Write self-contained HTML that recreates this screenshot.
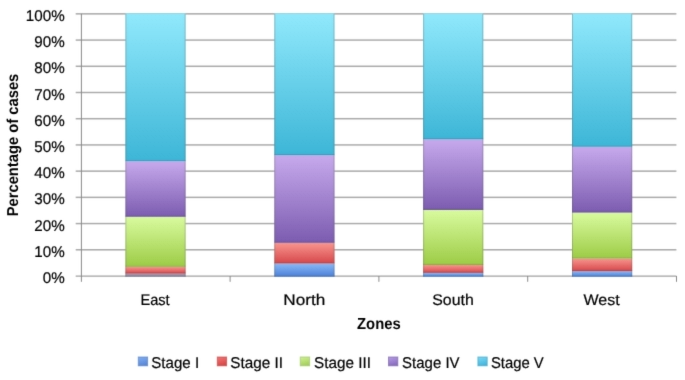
<!DOCTYPE html><html><head><meta charset="utf-8"><style>html,body{margin:0;padding:0;background:#fff;width:685px;height:380px;overflow:hidden}svg{display:block;will-change:transform}text{font-family:"Liberation Sans",sans-serif;text-rendering:geometricPrecision;fill:#000;stroke:#000;stroke-width:0.2px}text[font-weight=bold]{stroke-width:0}</style></head><body>
<svg width="685" height="380" viewBox="0 0 685 380">
<defs>
<filter id="soft" x="0" y="0" width="685" height="380" filterUnits="userSpaceOnUse" color-interpolation-filters="sRGB"><feConvolveMatrix in="SourceGraphic" order="3" kernelMatrix="0.01000 0.08000 0.01000 0.08000 0.64000 0.08000 0.01000 0.08000 0.01000" divisor="1" edgeMode="duplicate" preserveAlpha="false" result="A"/><feGaussianBlur in="A" stdDeviation="1.0" result="B"/><feColorMatrix in="A" type="matrix" values="0.299 0.587 0.114 0 0 0.299 0.587 0.114 0 0 0.299 0.587 0.114 0 0 0 0 0 1 0" result="YA"/><feColorMatrix in="B" type="matrix" values="0.299 0.587 0.114 0 0 0.299 0.587 0.114 0 0 0.299 0.587 0.114 0 0 0 0 0 1 0" result="YB"/><feComposite in="YA" in2="YB" operator="arithmetic" k1="0" k2="0.5" k3="-0.5" k4="0.5" result="G"/><feComposite in="B" in2="G" operator="arithmetic" k1="0" k2="1" k3="2" k4="-1"/></filter>
<linearGradient id="b0" x1="0" y1="0" x2="0" y2="1"><stop offset="0" stop-color="#a59ab8"/><stop offset="1" stop-color="#8e8aa2"/></linearGradient>
<linearGradient id="b" x1="0" y1="0" x2="0" y2="1"><stop offset="0" stop-color="#8ab8f6"/><stop offset="1" stop-color="#4a80d8"/></linearGradient>
<linearGradient id="r" x1="0" y1="0" x2="0" y2="1"><stop offset="0" stop-color="#f8958e"/><stop offset="1" stop-color="#d5464a"/></linearGradient>
<linearGradient id="g" x1="0" y1="0" x2="0" y2="1"><stop offset="0" stop-color="#d8fa9e"/><stop offset="1" stop-color="#9ccb45"/></linearGradient>
<linearGradient id="p" x1="0" y1="0" x2="0" y2="1"><stop offset="0" stop-color="#c6a9ec"/><stop offset="1" stop-color="#7b5baf"/></linearGradient>
<linearGradient id="c" x1="0" y1="0" x2="0" y2="1"><stop offset="0" stop-color="#90e8fb"/><stop offset="1" stop-color="#3cb5d6"/></linearGradient>
<linearGradient id="Lb" x1="0" y1="0" x2="0.3" y2="1"><stop offset="0" stop-color="#82aff3"/><stop offset="1" stop-color="#5a88d8"/></linearGradient><linearGradient id="Lr" x1="0" y1="0" x2="0.3" y2="1"><stop offset="0" stop-color="#f27676"/><stop offset="1" stop-color="#d84848"/></linearGradient><linearGradient id="Lg" x1="0" y1="0" x2="0.3" y2="1"><stop offset="0" stop-color="#d0f294"/><stop offset="1" stop-color="#a6cf5e"/></linearGradient><linearGradient id="Lp" x1="0" y1="0" x2="0.3" y2="1"><stop offset="0" stop-color="#b79de6"/><stop offset="1" stop-color="#8a6cc0"/></linearGradient><linearGradient id="Lc" x1="0" y1="0" x2="0.3" y2="1"><stop offset="0" stop-color="#7cdaf5"/><stop offset="1" stop-color="#46b6de"/></linearGradient>
</defs>
<g filter="url(#soft)">
<rect x="0" y="0" width="685" height="380" fill="#fff"/>
<rect x="75.70" y="249.03" width="600.70" height="1.5" fill="#aaaaaa"/>
<rect x="75.70" y="222.82" width="600.70" height="1.5" fill="#aaaaaa"/>
<rect x="75.70" y="196.61" width="600.70" height="1.5" fill="#aaaaaa"/>
<rect x="75.70" y="170.39" width="600.70" height="1.5" fill="#aaaaaa"/>
<rect x="75.70" y="144.18" width="600.70" height="1.5" fill="#aaaaaa"/>
<rect x="75.70" y="117.96" width="600.70" height="1.5" fill="#aaaaaa"/>
<rect x="75.70" y="91.75" width="600.70" height="1.5" fill="#aaaaaa"/>
<rect x="75.70" y="65.53" width="600.70" height="1.5" fill="#aaaaaa"/>
<rect x="75.70" y="39.32" width="600.70" height="1.5" fill="#aaaaaa"/>
<rect x="75.70" y="13.10" width="600.70" height="1.5" fill="#aaaaaa"/>
<rect x="80.90" y="13.85" width="1.0" height="267.95" fill="#8a8a8a"/>
<rect x="75.70" y="275.60" width="600.70" height="1.0" fill="#8a8a8a"/>
<rect x="229.60" y="276.00" width="1.0" height="5.8" fill="#8a8a8a"/>
<rect x="378.40" y="276.00" width="1.0" height="5.8" fill="#8a8a8a"/>
<rect x="527.20" y="276.00" width="1.0" height="5.8" fill="#8a8a8a"/>
<rect x="676.00" y="276.00" width="1.0" height="5.8" fill="#8a8a8a"/>
<rect x="125.40" y="273.64" width="60.20" height="2.96" fill="url(#b0)"/>
<rect x="125.40" y="275.50" width="60.20" height="1.1" fill="rgba(40,50,70,0.16)"/>
<rect x="125.40" y="266.82" width="60.20" height="6.82" fill="url(#r)"/>
<rect x="125.40" y="272.54" width="60.20" height="1.1" fill="rgba(40,50,70,0.16)"/>
<rect x="125.40" y="216.75" width="60.20" height="50.07" fill="url(#g)"/>
<rect x="125.40" y="265.72" width="60.20" height="1.1" fill="rgba(40,50,70,0.16)"/>
<rect x="125.40" y="161.18" width="60.20" height="55.58" fill="url(#p)"/>
<rect x="125.40" y="215.65" width="60.20" height="1.1" fill="rgba(40,50,70,0.16)"/>
<rect x="125.40" y="13.35" width="60.20" height="147.83" fill="url(#c)"/>
<rect x="125.40" y="160.08" width="60.20" height="1.1" fill="rgba(40,50,70,0.16)"/>
<rect x="125.40" y="13.85" width="1" height="262.75" fill="rgba(90,90,90,0.3)"/>
<rect x="184.60" y="13.85" width="1" height="262.75" fill="rgba(90,90,90,0.3)"/>
<rect x="274.30" y="263.50" width="60.20" height="13.10" fill="url(#b)"/>
<rect x="274.30" y="275.50" width="60.20" height="1.1" fill="rgba(40,50,70,0.16)"/>
<rect x="274.30" y="242.81" width="60.20" height="20.68" fill="url(#r)"/>
<rect x="274.30" y="262.40" width="60.20" height="1.1" fill="rgba(40,50,70,0.16)"/>
<rect x="274.30" y="155.15" width="60.20" height="87.66" fill="url(#p)"/>
<rect x="274.30" y="241.71" width="60.20" height="1.1" fill="rgba(40,50,70,0.16)"/>
<rect x="274.30" y="13.35" width="60.20" height="141.80" fill="url(#c)"/>
<rect x="274.30" y="154.05" width="60.20" height="1.1" fill="rgba(40,50,70,0.16)"/>
<rect x="274.30" y="13.85" width="1" height="262.75" fill="rgba(90,90,90,0.3)"/>
<rect x="333.50" y="13.85" width="1" height="262.75" fill="rgba(90,90,90,0.3)"/>
<rect x="423.10" y="272.85" width="60.20" height="3.75" fill="url(#b)"/>
<rect x="423.10" y="275.50" width="60.20" height="1.1" fill="rgba(40,50,70,0.16)"/>
<rect x="423.10" y="264.99" width="60.20" height="7.86" fill="url(#r)"/>
<rect x="423.10" y="271.75" width="60.20" height="1.1" fill="rgba(40,50,70,0.16)"/>
<rect x="423.10" y="209.94" width="60.20" height="55.05" fill="url(#g)"/>
<rect x="423.10" y="263.89" width="60.20" height="1.1" fill="rgba(40,50,70,0.16)"/>
<rect x="423.10" y="139.29" width="60.20" height="70.65" fill="url(#p)"/>
<rect x="423.10" y="208.84" width="60.20" height="1.1" fill="rgba(40,50,70,0.16)"/>
<rect x="423.10" y="13.35" width="60.20" height="125.94" fill="url(#c)"/>
<rect x="423.10" y="138.19" width="60.20" height="1.1" fill="rgba(40,50,70,0.16)"/>
<rect x="423.10" y="13.85" width="1" height="262.75" fill="rgba(90,90,90,0.3)"/>
<rect x="482.30" y="13.85" width="1" height="262.75" fill="rgba(90,90,90,0.3)"/>
<rect x="572.00" y="271.20" width="60.20" height="5.40" fill="url(#b)"/>
<rect x="572.00" y="275.50" width="60.20" height="1.1" fill="rgba(40,50,70,0.16)"/>
<rect x="572.00" y="258.57" width="60.20" height="12.64" fill="url(#r)"/>
<rect x="572.00" y="270.10" width="60.20" height="1.1" fill="rgba(40,50,70,0.16)"/>
<rect x="572.00" y="212.56" width="60.20" height="46.01" fill="url(#g)"/>
<rect x="572.00" y="257.47" width="60.20" height="1.1" fill="rgba(40,50,70,0.16)"/>
<rect x="572.00" y="146.76" width="60.20" height="65.80" fill="url(#p)"/>
<rect x="572.00" y="211.46" width="60.20" height="1.1" fill="rgba(40,50,70,0.16)"/>
<rect x="572.00" y="13.35" width="60.20" height="133.41" fill="url(#c)"/>
<rect x="572.00" y="145.66" width="60.20" height="1.1" fill="rgba(40,50,70,0.16)"/>
<rect x="572.00" y="13.85" width="1" height="262.75" fill="rgba(90,90,90,0.3)"/>
<rect x="631.20" y="13.85" width="1" height="262.75" fill="rgba(90,90,90,0.3)"/>
<text transform="translate(42.72,283.00) scale(0.9783,1)" font-size="15.5">0%</text>
<text transform="translate(34.29,256.78) scale(0.9783,1)" font-size="15.5">10%</text>
<text transform="translate(34.29,230.57) scale(0.9783,1)" font-size="15.5">20%</text>
<text transform="translate(34.29,204.36) scale(0.9783,1)" font-size="15.5">30%</text>
<text transform="translate(34.29,178.14) scale(0.9783,1)" font-size="15.5">40%</text>
<text transform="translate(34.29,151.93) scale(0.9783,1)" font-size="15.5">50%</text>
<text transform="translate(34.29,125.71) scale(0.9783,1)" font-size="15.5">60%</text>
<text transform="translate(34.29,99.50) scale(0.9783,1)" font-size="15.5">70%</text>
<text transform="translate(34.29,73.28) scale(0.9783,1)" font-size="15.5">80%</text>
<text transform="translate(34.29,47.07) scale(0.9783,1)" font-size="15.5">90%</text>
<text transform="translate(25.86,20.85) scale(0.9783,1)" font-size="15.5">100%</text>
<text transform="translate(140.40,304.60) scale(0.9509,1)" font-size="15.4">East</text>
<text transform="translate(283.29,304.60) scale(1.1162,1)" font-size="15.4">North</text>
<text transform="translate(432.27,304.60) scale(1.0303,1)" font-size="15.4">South</text>
<text transform="translate(583.42,304.60) scale(1.0428,1)" font-size="15.4">West</text>
<text transform="translate(357.06,329.40) scale(0.9264,1)" font-size="16" font-weight="bold">Zones</text>
<text transform="translate(17.9,0) rotate(-90) translate(-216.29,0) scale(0.9331,1)" font-size="15.8" font-weight="bold">Percentage of cases</text>
<rect x="138.30" y="357.0" width="9.3" height="8.8" fill="url(#Lb)" stroke="#5a84cc" stroke-opacity="0.7" stroke-width="1"/>
<text transform="translate(151.31,368.00) scale(0.9665,1)" font-size="15.6">Stage I</text>
<rect x="217.30" y="357.0" width="9.3" height="8.8" fill="url(#Lr)" stroke="#c44a4c" stroke-opacity="0.7" stroke-width="1"/>
<text transform="translate(230.30,368.00) scale(0.9802,1)" font-size="15.6">Stage II</text>
<rect x="300.30" y="357.0" width="9.3" height="8.8" fill="url(#Lg)" stroke="#a0c468" stroke-opacity="0.7" stroke-width="1"/>
<text transform="translate(314.00,368.00) scale(0.9793,1)" font-size="15.6">Stage III</text>
<rect x="388.50" y="357.0" width="9.3" height="8.8" fill="url(#Lp)" stroke="#8068b4" stroke-opacity="0.7" stroke-width="1"/>
<text transform="translate(402.11,368.00) scale(0.9603,1)" font-size="15.6">Stage IV</text>
<rect x="477.90" y="357.0" width="9.3" height="8.8" fill="url(#Lc)" stroke="#48a9cc" stroke-opacity="0.7" stroke-width="1"/>
<text transform="translate(490.92,368.00) scale(0.9523,1)" font-size="15.6">Stage V</text>
</g></svg></body></html>
